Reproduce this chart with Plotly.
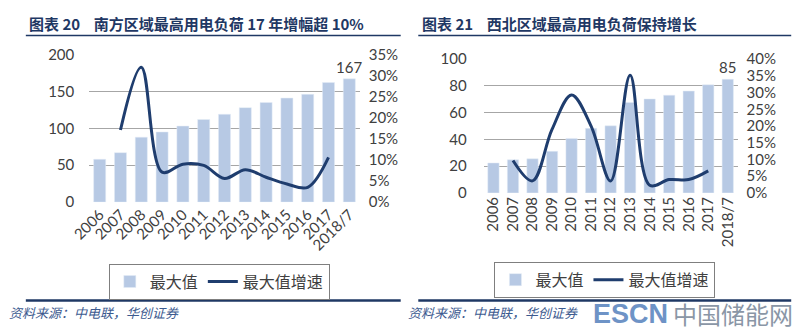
import plotly.graph_objects as go

W, H = 800, 336

categories = ["2006", "2007", "2008", "2009", "2010", "2011", "2012",
              "2013", "2014", "2015", "2016", "2017", "2018/7"]
growth_years = categories[1:12]

south_max = [58, 67, 88, 95, 103, 112, 119, 128, 135, 141, 146, 162, 167]
south_growth = [0.171, 0.32, 0.071, 0.090, 0.087, 0.056, 0.077, 0.059, 0.043, 0.035, 0.106]

nw_max = [22.4, 24.8, 25.5, 31.1, 40.8, 48.3, 50.2, 67.7, 70.3, 73.1, 76.2, 80.9, 85]
nw_growth = [0.097, 0.036, 0.19, 0.293, 0.20, 0.036, 0.352, 0.023, 0.040, 0.040, 0.066]

NB = "\u00a0"
left_title = f"图表{NB}20{NB}{NB}{NB}{NB}南方区域最高用电负荷{NB}17{NB}年增幅超{NB}10%"
right_title = f"图表{NB}21{NB}{NB}{NB}{NB}西北区域最高用电负荷保持增长"
source_text = "资料来源：中电联，华创证券"
bar_name = "最大值"
line_name = "最大值增速"

BAR_C = "#b7c9e4"
LINE_C = "#1f3d6e"
NAVY = "#1f3864"
TXT = "#404040"
NUMFONT = "Lato, 'Noto Sans CJK SC', sans-serif"
CJK = "'Noto Sans CJK SC', sans-serif"


def px(x):
    return x / W


def py(y):
    return 1 - y / H


def label_last(vals):
    return [""] * (len(vals) - 1) + [f"{vals[-1]:g}"]


fig = go.Figure()

# Left chart
fig.add_trace(go.Bar(x=categories, y=south_max, name=bar_name, marker_color=BAR_C,
                     text=label_last(south_max), textposition="outside", cliponaxis=False,
                     constraintext="none",
                     textfont=dict(size=15, color=TXT, family=NUMFONT),
                     xaxis="x", yaxis="y", legend="legend"))
fig.add_trace(go.Scatter(x=growth_years, y=south_growth, name=line_name, mode="lines",
                         line=dict(color=LINE_C, width=3, shape="spline", smoothing=1.0),
                         xaxis="x", yaxis="y2", legend="legend"))
# Right chart
fig.add_trace(go.Bar(x=categories, y=nw_max, name=bar_name, marker_color=BAR_C,
                     text=label_last(nw_max), textposition="outside", cliponaxis=False,
                     constraintext="none",
                     textfont=dict(size=15, color=TXT, family=NUMFONT),
                     xaxis="x2", yaxis="y3", legend="legend2"))
fig.add_trace(go.Scatter(x=growth_years, y=nw_growth, name=line_name, mode="lines",
                         line=dict(color=LINE_C, width=3, shape="spline", smoothing=1.0),
                         xaxis="x2", yaxis="y4", legend="legend2"))

tickf = dict(size=15, color=TXT, family=NUMFONT)

legend_common = dict(orientation="h", bgcolor="white", bordercolor="#7f7f7f", borderwidth=1,
                     font=dict(size=16, color=TXT, family=CJK), xanchor="left", yanchor="top",
                     itemwidth=30, tracegroupgap=0)

fig.update_layout(
    width=W, height=H, margin=dict(l=0, r=0, t=0, b=0),
    paper_bgcolor="white", plot_bgcolor="white",
    bargap=0.42,
    xaxis=dict(domain=[px(72), px(349)], anchor="y", tickangle=-45, tickfont=tickf,
               showline=False, ticks="", categoryorder="array", categoryarray=categories),
    yaxis=dict(domain=[py(203), py(47)], range=[0, 200], dtick=50, tickfont=tickf,
               showgrid=True, gridcolor="#a6a6a6", gridwidth=1, zeroline=False,
               ticklabelstandoff=14),
    yaxis2=dict(overlaying="y", side="right", range=[0, 0.35], dtick=0.05, tickformat=".0%",
                tickfont=tickf, showgrid=False, zeroline=False, anchor="x", ticklabelstandoff=8),
    xaxis2=dict(domain=[px(476), px(736)], anchor="y3", tickangle=-90, tickfont=tickf,
                showline=False, ticks="", categoryorder="array", categoryarray=categories),
    yaxis3=dict(domain=[py(193.3), py(52)], range=[0, 100], dtick=20, tickfont=tickf,
                showgrid=True, gridcolor="#a6a6a6", gridwidth=1, zeroline=False,
                anchor="x2", ticklabelstandoff=16),
    yaxis4=dict(overlaying="y3", side="right", range=[0, 0.40], dtick=0.05, tickformat=".0%",
                tickfont=tickf, showgrid=False, zeroline=False, anchor="x2", ticklabelstandoff=8),
    legend=dict(x=px(92), y=py(268), **legend_common),
    legend2=dict(x=px(487), y=py(266), **legend_common),
)

shapes = []
for x0, x1 in [(7, 391), (409, 791)]:
    shapes.append(dict(type="line", xref="paper", yref="paper", x0=px(x0), x1=px(x1),
                       y0=py(27), y1=py(27), line=dict(color=NAVY, width=1.5)))
    shapes.append(dict(type="line", xref="paper", yref="paper", x0=px(x0), x1=px(x1),
                       y0=py(307), y1=py(307), line=dict(color=NAVY, width=2.5)))
fig.update_layout(shapes=shapes)

ann = []
for x0, t in [(8, left_title), (411, right_title)]:
    ann.append(dict(xref="paper", yref="paper", x=px(x0), y=py(14), text=f"<b>{t}</b>",
                    showarrow=False, xanchor="left", yanchor="middle",
                    font=dict(size=15, color=NAVY, family=CJK)))
for x0 in (-12, 396):
    ann.append(dict(xref="paper", yref="paper", x=px(x0), y=py(320), text=f"<i>{source_text}</i>",
                    showarrow=False, xanchor="left", yanchor="middle", align="left",
                    font=dict(size=13, color="#3c5a8f", family=CJK)))
ann.append(dict(xref="paper", yref="paper", x=px(667), y=py(321), text="<b>ESCN</b>",
                showarrow=False, xanchor="right", yanchor="middle",
                font=dict(size=27, color="#6e93c6", family="'Liberation Sans', sans-serif")))
ann.append(dict(xref="paper", yref="paper", x=px(668), y=py(321), text="中国储能网",
                showarrow=False, xanchor="left", yanchor="middle",
                font=dict(size=24, color="#8a96a6", family=CJK)))
fig.update_layout(annotations=ann)

fig.write_html("out.html")
